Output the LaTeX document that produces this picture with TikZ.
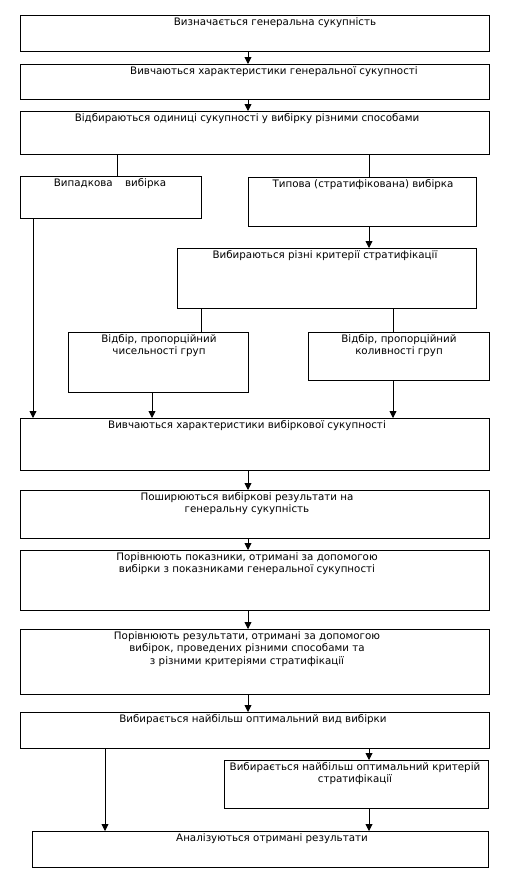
\documentclass[tikz,border=0pt]{standalone}
\usepackage{fontspec}
\setmainfont{DejaVu Sans}
\usetikzlibrary{arrows.meta}
\begin{document}
\begin{tikzpicture}[x=1bp,y=-1bp,
  box/.style={draw=black,line width=0.9bp,inner sep=0pt,outer sep=0pt},
  txt/.style={inner sep=0pt,anchor=north,align=center,font=\fontsize{10.3bp}{12.7bp}\selectfont},
  arr/.style={draw=black,line width=0.9bp,-{Triangle[length=7bp,width=7bp]}},
  ln/.style={draw=black,line width=0.9bp}]
\useasboundingbox (0,0) rectangle (512,885);
\fill[white] (0,0) rectangle (512,885);
% boxes
\node[box,minimum width=469bp,minimum height=36bp,anchor=north west] (b1) at (20,15) {};
\node[box,minimum width=469bp,minimum height=35bp,anchor=north west] (b2) at (20,64) {};
\node[box,minimum width=469bp,minimum height=43bp,anchor=north west] (b3) at (20,111) {};
\node[box,minimum width=181bp,minimum height=42bp,anchor=north west] (b4) at (20,176) {};
\node[box,minimum width=228bp,minimum height=49bp,anchor=north west] (b5) at (248,177) {};
\node[box,minimum width=299bp,minimum height=60bp,anchor=north west] (b6) at (177,248) {};
\node[box,minimum width=180bp,minimum height=60bp,anchor=north west] (b7) at (68,332) {};
\node[box,minimum width=181bp,minimum height=48bp,anchor=north west] (b8) at (308,332) {};
\node[box,minimum width=469bp,minimum height=52bp,anchor=north west] (b9) at (20,418) {};
\node[box,minimum width=469bp,minimum height=48bp,anchor=north west] (b10) at (20,490) {};
\node[box,minimum width=469bp,minimum height=60bp,anchor=north west] (b11) at (20,550) {};
\node[box,minimum width=469bp,minimum height=65bp,anchor=north west] (b12) at (20,629) {};
\node[box,minimum width=469bp,minimum height=36bp,anchor=north west] (b13) at (20,712) {};
\node[box,minimum width=264bp,minimum height=48bp,anchor=north west] (b14) at (224,760) {};
\node[box,minimum width=456bp,minimum height=36bp,anchor=north west] (b15) at (32,831) {};
% texts
\node[txt] (t1) at (275,17) {Визначається генеральна сукупність};
\node[txt] (t2) at (274,66) {Вивчаються характеристики генеральної сукупності};
\node[txt] (t3) at (247,113) {Відбираються одиниці сукупності у вибірку різними способами};
\node[txt] (t4) at (110,178) {Випадкова\hspace{1.2em}вибірка};
\node[txt] (t5) at (363,179) {Типова (стратифікована) вибірка};
\node[txt] (t6) at (325,250) {Вибираються різні критерії стратифікації};
\node[txt] (t7) at (159,334) {Відбір, пропорційний\\чисельності груп};
\node[txt] (t8) at (399,334) {Відбір, пропорційний\\коливності груп};
\node[txt] (t9) at (247,420) {Вивчаються характеристики вибіркової сукупності};
\node[txt] (t10) at (247,492) {Поширюються вибіркові результати на\\генеральну сукупність};
\node[txt] (t11) at (247,552) {Порівнюють показники, отримані за допомогою\\вибірки з показниками генеральної сукупності};
\node[txt] (t12) at (247,631) {Порівнюють результати, отримані за допомогою\\вибірок, проведених різними способами та\\з різними критеріями стратифікації};
\node[txt] (t13) at (253,714) {Вибирається найбільш оптимальний вид вибірки};
\node[txt] (t14) at (355,762) {Вибирається найбільш оптимальний критерій\\стратифікації};
\node[txt] (t15) at (272,833) {Аналізуються отримані результати};
% connectors
\draw[arr] (b1.south -| 248,0) -- (b2.north -| 248,0);
\draw[arr] (b2.south -| 248,0) -- (b3.north -| 248,0);
\draw[ln] (b3.south -| 117,0) -- (b4.north -| 117,0);
\draw[ln] (b3.south -| 369,0) -- (b5.north -| 369,0);
\draw[arr] (b4.south -| 33,0) -- (b9.north -| 33,0);
\draw[arr] (b5.south -| 369,0) -- (b6.north -| 369,0);
\draw[ln] (b6.south -| 201,0) -- (b7.north -| 201,0);
\draw[ln] (b6.south -| 393,0) -- (b8.north -| 393,0);
\draw[arr] (b7.south -| 152,0) -- (b9.north -| 152,0);
\draw[arr] (b8.south -| 393,0) -- (b9.north -| 393,0);
\draw[arr] (b9.south -| 248,0) -- (b10.north -| 248,0);
\draw[arr] (b10.south -| 248,0) -- (b11.north -| 248,0);
\draw[arr] (b11.south -| 248,0) -- (b12.north -| 248,0);
\draw[arr] (b12.south -| 248,0) -- (b13.north -| 248,0);
\draw[arr] (b13.south -| 105,0) -- (b15.north -| 105,0);
\draw[arr] (b13.south -| 369,0) -- (b14.north -| 369,0);
\draw[arr] (b14.south -| 369,0) -- (b15.north -| 369,0);
\end{tikzpicture}
\end{document}
